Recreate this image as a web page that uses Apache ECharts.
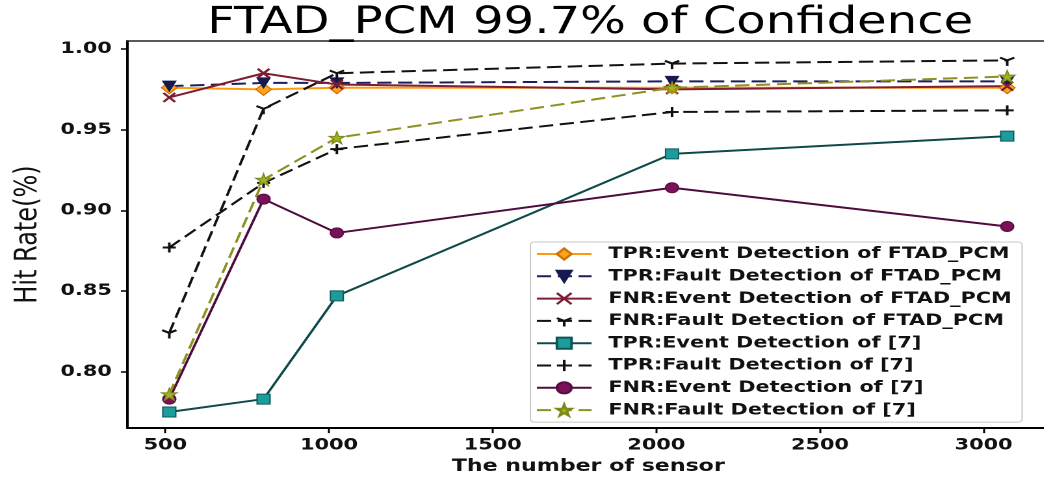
<!DOCTYPE html>
<html>
<head>
<meta charset="utf-8">
<script src="https://cdn.jsdelivr.net/npm/echarts@6/dist/echarts.min.js"></script>
<style>
  html, body { margin: 0; padding: 0; background: #ffffff; overflow: hidden; }
  #wrap { width: 1044px; height: 480px; overflow: hidden; background: #ffffff; }
  /* figure is laid out at its native width and shown widened; the right frame edge falls outside the page */
  #chart { width: 812px; height: 480px; transform: scaleX(1.3); transform-origin: 0 0; }
</style>
</head>
<body>
<div id="wrap"><div id="chart"></div></div>
<script>
// Number of sensors on the x axis
const sensors = [512, 800, 1024, 2048, 3072];

// Hit rates of the proposed FTAD_PCM method
const tprEventFtad = [0.976, 0.975, 0.976, 0.976, 0.976];
const tprFaultFtad = [0.977, 0.979, 0.979, 0.980, 0.980];
const fnrEventFtad = [0.970, 0.985, 0.978, 0.975, 0.977];
const fnrFaultFtad = [0.824, 0.963, 0.985, 0.991, 0.993];

// Hit rates of the method from reference [7]
const tprEventRef = [0.775, 0.783, 0.847, 0.935, 0.946];
const tprFaultRef = [0.877, 0.917, 0.938, 0.961, 0.962];
const fnrEventRef = [0.783, 0.907, 0.886, 0.914, 0.890];
const fnrFaultRef = [0.786, 0.919, 0.945, 0.976, 0.983];

const seriesNames = [
  'TPR:Event Detection of FTAD_PCM',
  'TPR:Fault Detection of FTAD_PCM',
  'FNR:Event Detection of FTAD_PCM',
  'FNR:Fault Detection of FTAD_PCM',
  'TPR:Event Detection of [7]',
  'TPR:Fault Detection of [7]',
  'FNR:Event Detection of [7]',
  'FNR:Fault Detection of [7]'
];

// Tick labels
const xTicks = [500, 1000, 1500, 2000, 2500, 3000];
const yTicks = [0.80, 0.85, 0.90, 0.95, 1.00];

// Visible axis ranges
const X_MIN = 384, X_MAX = 3200;
const Y_MIN = 0.765, Y_MAX = 1.005;

const pts = (ys) => sensors.map((x, i) => [x, ys[i]]);

// Marker shapes
const SYM_X = 'path://M0,0L10,10M10,0L0,10';
const SYM_TRI_DOWN = 'path://M5,5L5,10M5,5L0.67,2.5M5,5L9.33,2.5M5,0L5,0';
const SYM_PLUS = 'path://M5,0L5,10M0,5L10,5';
const SYM_STAR = 'path://M50,0L61.17,34.63L97.55,34.55L68.07,55.87L79.39,90.45L50,69L20.61,90.45L31.93,55.87L2.45,34.55L38.83,34.63Z';

const DASH = [11, 5];

function makeSeries(name, ys, opts) {
  return {
    name: name,
    type: 'line',
    xAxisIndex: 0,
    data: pts(ys),
    symbol: opts.symbol,
    symbolSize: opts.size || 10,
    symbolRotate: opts.rotate || 0,
    showAllSymbol: true,
    lineStyle: { color: opts.line, width: 2, type: opts.dashed ? DASH : 'solid' },
    itemStyle: {
      color: opts.fill,
      borderColor: opts.edge,
      borderWidth: opts.edgeWidth || 1
    },
    emphasis: { disabled: true },
    animation: false
  };
}

const series = [
  makeSeries(seriesNames[0], tprEventFtad, { symbol: 'diamond', size: 12, line: '#FF9A10', fill: '#FFA21F', edge: '#D07000' }),
  makeSeries(seriesNames[1], tprFaultFtad, { symbol: 'triangle', rotate: 180, size: 10, dashed: true, line: '#1C1F5A', fill: '#171A50', edge: '#171A50' }),
  makeSeries(seriesNames[2], fnrEventFtad, { symbol: SYM_X, size: 9, line: '#7E1E32', fill: '#7E1E32', edge: '#7E1E32', edgeWidth: 2 }),
  makeSeries(seriesNames[3], fnrFaultFtad, { symbol: SYM_TRI_DOWN, size: 11, dashed: true, line: '#111111', fill: '#111111', edge: '#111111', edgeWidth: 2 }),
  makeSeries(seriesNames[4], tprEventRef, { symbol: 'rect', size: 10, line: '#0F4A4A', fill: '#1E9C9C', edge: '#0C5858' }),
  makeSeries(seriesNames[5], tprFaultRef, { symbol: SYM_PLUS, size: 10, dashed: true, line: '#111111', fill: '#111111', edge: '#111111', edgeWidth: 2 }),
  makeSeries(seriesNames[6], fnrEventRef, { symbol: 'circle', size: 10, line: '#4E0C3E', fill: '#7A1259', edge: '#5A0C44' }),
  makeSeries(seriesNames[7], fnrFaultRef, { symbol: SYM_STAR, size: 12, dashed: true, line: '#8F8F22', fill: '#A2B224', edge: '#7E8A18' })
];

const tickFont = { fontFamily: 'DejaVu Sans', fontSize: 16, fontWeight: 'bold', color: '#111111' };

const chart = echarts.init(document.getElementById('chart'), null, { renderer: 'canvas', devicePixelRatio: 2 });

chart.setOption({
  animation: false,
  title: {
    text: 'FTAD_PCM 99.7% of Confidence',
    left: 454,
    top: 5,
    padding: 0,
    textAlign: 'center',
    textStyle: { fontFamily: 'DejaVu Sans', fontSize: 37, fontWeight: 'normal', color: '#000000' }
  },
  grid: {
    left: 98,
    right: 5,
    top: 41,
    bottom: 51,
    show: false
  },
  legend: {
    orient: 'vertical',
    left: 408,
    top: 242,
    padding: [3, 8, 3, 4],
    itemWidth: 42,
    itemHeight: 14,
    itemGap: 4.3,
    backgroundColor: 'rgba(255,255,255,0.85)',
    borderColor: '#c8c8c8',
    borderWidth: 1,
    borderRadius: 3,
    data: seriesNames,
    textStyle: {
      fontFamily: 'DejaVu Sans',
      fontSize: 16,
      fontWeight: 'bold',
      color: '#111111',
      lineHeight: 18,
      padding: [0, 0, 0, 8]
    }
  },
  xAxis: [
    {
      type: 'value',
      min: X_MIN,
      max: X_MAX,
      position: 'bottom',
      name: 'The number of sensor',
      nameLocation: 'middle',
      nameGap: 29,
      nameTextStyle: { fontFamily: 'DejaVu Sans', fontSize: 17, fontWeight: 'bold', color: '#111111' },
      axisLine: { show: true, lineStyle: { color: '#000000', width: 2 } },
      axisTick: { show: true, length: 5, inside: false, customValues: xTicks, lineStyle: { color: '#000000', width: 1.5 } },
      axisLabel: Object.assign({ customValues: xTicks, margin: 9, formatter: (v) => String(v) }, tickFont),
      splitLine: { show: false }
    },
    {
      // top frame line
      type: 'value',
      min: X_MIN,
      max: X_MAX,
      position: 'top',
      axisLine: { show: true, onZero: false, lineStyle: { color: '#222222', width: 1.5 } },
      axisTick: { show: false },
      axisLabel: { show: false },
      splitLine: { show: false }
    }
  ],
  yAxis: {
    type: 'value',
    min: Y_MIN,
    max: Y_MAX,
    name: 'Hit Rate(%)',
    nameLocation: 'middle',
    nameGap: 64,
    nameRotate: 90,
    nameTextStyle: { fontFamily: 'DejaVu Sans', fontSize: 24, fontWeight: 'normal', color: '#111111' },
    axisLine: { show: true, lineStyle: { color: '#000000', width: 2 } },
    axisTick: { show: true, length: 5, inside: false, customValues: yTicks, lineStyle: { color: '#000000', width: 1.5 } },
    axisLabel: Object.assign({ customValues: yTicks, margin: 12, formatter: (v) => v.toFixed(2) }, tickFont),
    splitLine: { show: false }
  },
  series: series
});
</script>
</body>
</html>
